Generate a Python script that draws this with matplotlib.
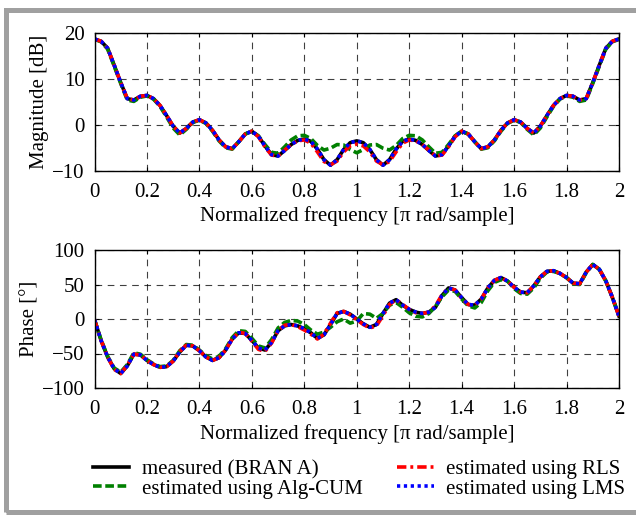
import numpy as np
import matplotlib
matplotlib.use("Agg")
import matplotlib.pyplot as plt
from matplotlib.patches import Rectangle

# ---------------------------------------------------------------------------
# data (normalized frequency, 0.025 step)
# ---------------------------------------------------------------------------
freq = np.round(np.arange(0, 81) * 0.025, 3)

# magnitude [dB]
mag_measured = [
    18.7, 18.2, 16.7, 13.0, 9.2, 5.7, 5.4, 6.2, 6.4, 5.7,
    4.2, 2.0, -0.3, -1.8, -0.8, 0.6, 1.1, 0.4, -1.2, -3.3,
    -4.8, -5.2, -3.7, -2.0, -1.4, -2.5, -4.6, -6.5, -6.8, -5.6,
    -4.3, -3.4, -3.1, -3.6, -5.3, -7.6, -8.8, -7.6, -5.4, -3.9,
    -3.5, -3.9, -5.4, -7.6, -8.8, -7.6, -5.3, -3.6, -3.1, -3.4,
    -4.3, -5.6, -6.8, -6.5, -4.6, -2.5, -1.4, -2.0, -3.7, -5.2,
    -4.8, -3.3, -1.2, 0.4, 1.1, 0.6, -0.8, -1.8, -0.3, 2.0,
    4.2, 5.7, 6.4, 6.2, 5.4, 5.7, 9.2, 13.0, 16.7, 18.2, 18.7,
]
mag_cum = [
    18.6, 18.1, 16.5, 12.8, 9.0, 5.4, 5.1, 6.0, 6.3, 5.6,
    4.0, 1.7, -0.7, -2.2, -1.0, 0.5, 1.0, 0.3, -1.4, -3.5,
    -5.0, -5.3, -3.7, -2.0, -1.4, -2.4, -4.3, -6.0, -6.2, -4.8,
    -3.3, -2.4, -2.3, -3.0, -4.5, -5.5, -5.1, -4.3, -4.4, -5.4,
    -6.1, -5.4, -4.4, -4.3, -5.1, -5.5, -4.5, -3.0, -2.3, -2.4,
    -3.3, -4.8, -6.2, -6.0, -4.3, -2.4, -1.4, -2.0, -3.7, -5.3,
    -5.0, -3.5, -1.4, 0.3, 1.0, 0.5, -1.0, -2.2, -0.7, 1.7,
    4.0, 5.6, 6.3, 6.0, 5.1, 5.4, 9.0, 12.8, 16.5, 18.1, 18.6,
]
mag_rls = [
    18.7, 18.2, 16.7, 13.0, 9.2, 5.7, 5.4, 6.2, 6.4, 5.7,
    4.2, 2.0, -0.3, -1.8, -0.8, 0.6, 1.1, 0.4, -1.2, -3.3,
    -4.8, -5.2, -3.7, -2.0, -1.4, -2.6, -4.8, -6.6, -6.8, -5.5,
    -4.3, -3.5, -3.3, -4.0, -5.9, -8.0, -8.7, -7.9, -5.9, -4.6,
    -4.2, -4.6, -5.9, -7.9, -8.7, -8.0, -5.9, -4.0, -3.3, -3.5,
    -4.3, -5.5, -6.8, -6.6, -4.8, -2.6, -1.4, -2.0, -3.7, -5.2,
    -4.8, -3.3, -1.2, 0.4, 1.1, 0.6, -0.8, -1.8, -0.3, 2.0,
    4.2, 5.7, 6.4, 6.2, 5.4, 5.7, 9.2, 13.0, 16.7, 18.2, 18.7,
]
mag_lms = [
    18.7, 18.2, 16.7, 13.0, 9.2, 5.7, 5.4, 6.2, 6.4, 5.7,
    4.2, 2.0, -0.3, -1.8, -0.8, 0.6, 1.1, 0.4, -1.2, -3.3,
    -4.8, -5.2, -3.7, -2.0, -1.4, -2.5, -4.6, -6.5, -6.8, -5.6,
    -4.3, -3.4, -3.1, -3.6, -5.3, -7.6, -8.8, -7.6, -5.4, -3.9,
    -3.5, -3.9, -5.4, -7.6, -8.8, -7.6, -5.3, -3.6, -3.1, -3.4,
    -4.3, -5.6, -6.8, -6.5, -4.6, -2.5, -1.4, -2.0, -3.7, -5.2,
    -4.8, -3.3, -1.2, 0.4, 1.1, 0.6, -0.8, -1.8, -0.3, 2.0,
    4.2, 5.7, 6.4, 6.2, 5.4, 5.7, 9.2, 13.0, 16.7, 18.2, 18.7,
]

# phase [deg]
ph_measured = [
    -1, -31, -55, -72, -79, -68, -51, -52, -60, -66,
    -70, -69, -61, -48, -38, -39, -46, -55, -60, -56,
    -45, -29, -20, -21, -31, -42, -45, -34, -17, -10,
    -8, -10, -14, -20, -28, -23, -8, 8, 11, 7,
    0, -7, -12, -8, 8, 23, 28, 20, 14, 10,
    8, 10, 17, 34, 45, 42, 31, 21, 20, 29,
    45, 56, 60, 55, 46, 39, 38, 48, 61, 69,
    70, 66, 60, 52, 51, 68, 79, 72, 55, 31, 4,
]
ph_cum = [
    -1, -30, -54, -71, -77, -66, -49, -51, -59, -65,
    -69, -68, -60, -46, -37, -38, -45, -53, -58, -54,
    -43, -27, -17, -18, -28, -39, -42, -30, -13, -5,
    -2, -3, -8, -16, -22, -19, -12, -4, 0, -6,
    -3, 8, 7, 1, 8, 20, 24, 17, 9, 4,
    3, 8, 18, 32, 42, 40, 29, 19, 16, 24,
    41, 53, 57, 55, 44, 37, 36, 45, 59, 68,
    69, 66, 60, 51, 50, 67, 79, 72, 55, 31, 4,
]
ph_rls = [
    -1, -31, -55, -73, -79, -67, -51, -52, -60, -66,
    -70, -69, -61, -47, -38, -39, -46, -55, -60, -56,
    -45, -29, -19, -21, -32, -44, -47, -35, -17, -9,
    -8, -11, -16, -22, -29, -22, -6, 9, 11, 6,
    -1, -8, -13, -10, 5, 21, 28, 21, 14, 9,
    8, 10, 19, 35, 45, 42, 30, 21, 20, 29,
    45, 56, 60, 55, 46, 39, 38, 48, 61, 69,
    70, 66, 60, 52, 51, 68, 79, 72, 55, 31, 4,
]
ph_lms = [
    -1, -31, -55, -72, -79, -68, -51, -52, -60, -66,
    -70, -69, -61, -48, -38, -39, -46, -55, -60, -56,
    -45, -29, -20, -21, -31, -42, -45, -34, -17, -10,
    -8, -10, -14, -20, -28, -23, -8, 8, 11, 7,
    0, -7, -12, -8, 8, 23, 28, 20, 14, 10,
    8, 10, 17, 34, 45, 42, 31, 21, 20, 29,
    45, 56, 60, 55, 46, 39, 38, 48, 61, 69,
    70, 66, 60, 52, 51, 68, 79, 72, 55, 31, 4,
]

labels = ["measured (BRAN A)", "estimated using Alg-CUM",
          "estimated using RLS", "estimated using LMS"]
xticks = [0, 0.2, 0.4, 0.6, 0.8, 1, 1.2, 1.4, 1.6, 1.8, 2]
xticklabels = ["0", "0.2", "0.4", "0.6", "0.8", "1", "1.2", "1.4", "1.6", "1.8", "2"]

# ---------------------------------------------------------------------------
plt.rcParams["font.family"] = ["Liberation Serif", "DejaVu Serif"]
plt.rcParams["font.size"] = 15

W, H = 636, 515
fig = plt.figure(figsize=(W / 100, H / 100), dpi=100)

def px_axes(left, top, right, bottom):
    return fig.add_axes([left / W, 1 - bottom / H, (right - left) / W, (bottom - top) / H])

styles = [
    dict(color="black", linestyle="-", lw=2.6),
    dict(color="#008000", linestyle=(0, (2.4, 1.0)), lw=2.6),
    dict(color="red", linestyle=(0, (2.6, 1.1, 0.8, 1.1)), lw=2.6),
    dict(color="blue", linestyle=(0, (0.9, 1.0)), lw=2.6),
]

ax1 = px_axes(94.5, 33, 619, 170.7)
ax2 = px_axes(94.5, 250, 619, 388)

for ax, series, ylim, yticks, ylabel in [
    (ax1, [mag_measured, mag_cum, mag_rls, mag_lms], (-10, 20), [-10, 0, 10, 20], "Magnitude [dB]"),
    (ax2, [ph_measured, ph_cum, ph_rls, ph_lms], (-100, 100), [-100, -50, 0, 50, 100], "Phase [°]"),
]:
    for vals, st, lab in zip(series, styles, labels):
        ax.plot(freq, vals, label=lab, **st)
    ax.set_xlim(0, 2)
    ax.set_ylim(*ylim)
    ax.set_xticks(xticks)
    ax.set_xticklabels(xticklabels)
    ax.set_yticks(yticks)
    ax.grid(True, color="black", linestyle=(0, (6, 5)), linewidth=0.8, alpha=0.75)
    ax.tick_params(direction="in", top=True, right=True, length=3, width=0.8)
    ax.tick_params(axis="x", pad=9)
    ax.tick_params(axis="y", pad=7)
    for sp in ax.spines.values():
        sp.set_linewidth(1.0)
    ax.set_xlabel("Normalized frequency [π rad/sample]", labelpad=3)
    ax.set_ylabel(ylabel, labelpad=2)

handles, labs = ax1.get_legend_handles_labels()
fig.legend(handles, labs, loc="center", ncol=2, frameon=False,
           bbox_to_anchor=(359 / W, 1 - 479 / H), handlelength=1.75,
           handletextpad=0.6, columnspacing=1.65, labelspacing=0.0,
           fontsize=15)

# grey frame around the figure (right side is cut off in the original)
bw = 5
fig.add_artist(Rectangle((5.5 / W, (bw / 2 + 0.5) / H), 1.2, 1 - (bw + 8) / H,
                         transform=fig.transFigure, fill=False,
                         edgecolor="#a0a0a0", lw=bw * 0.72, clip_on=False))

fig.savefig("out.png", dpi=100)
